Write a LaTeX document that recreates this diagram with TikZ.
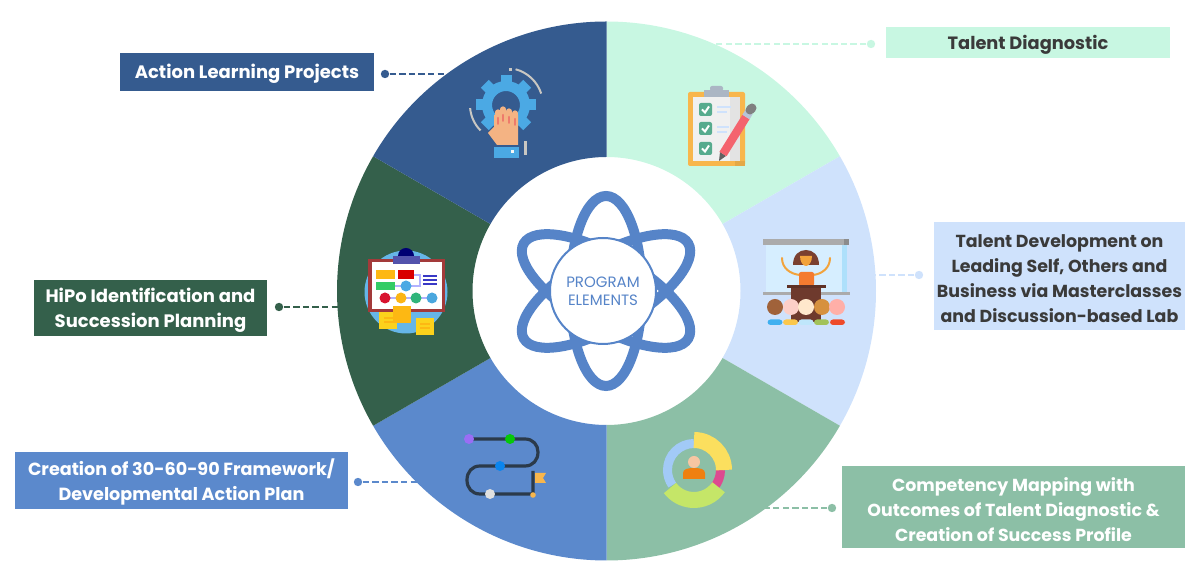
\documentclass[tikz,border=0pt]{standalone}
\usepackage{fontspec}
\setmainfont{Poppins}
\definecolor{navyseg}{HTML}{355B8F}
\definecolor{mintseg}{HTML}{C8F7E2}
\definecolor{skyseg}{HTML}{CFE2FC}
\definecolor{sageseg}{HTML}{8CBFA6}
\definecolor{blueseg}{HTML}{5B89CC}
\definecolor{pineseg}{HTML}{34604B}
\definecolor{labeltext}{HTML}{3A3A3A}
\definecolor{atomblue}{HTML}{5684C8}
\definecolor{iconblue}{HTML}{4BA9E4}
\definecolor{icongray}{HTML}{C9C7C2}
\definecolor{skin}{HTML}{F4B383}
\definecolor{fingerred}{HTML}{EE7B6B}
\definecolor{boardorange}{HTML}{F8B64C}
\definecolor{tickgreen}{HTML}{57AB8E}
\definecolor{brownwood}{HTML}{6E3A2D}
\definecolor{stickyyellow}{HTML}{FCD21C}
\definecolor{stickyorange}{HTML}{FDB813}
\definecolor{pencilred}{HTML}{F4636E}
\definecolor{screenblue}{HTML}{D6EEFF}
\definecolor{stripblue}{HTML}{AEE0FB}
\definecolor{armorange}{HTML}{F2A33C}
\definecolor{robeorange}{HTML}{F47B30}
\definecolor{hairbrown}{HTML}{7A4030}
\definecolor{frameline}{HTML}{A33A3A}
\definecolor{roaddark}{HTML}{2B3A4A}
\newcommand{\labelstrut}{\rule{0pt}{9.4pt}}
\tikzset{
    labelbox/.style={
        rectangle,
        inner sep=0pt,
        align=center,
        font=\fontsize{#1}{12.5}\selectfont\bfseries
    },
    linkdot/.style={
        circle,
        inner sep=0pt,
        minimum size=4.2pt
    },
    linkline/.style={
        line width=0.9pt,
        dash pattern=on 3.2pt off 1.6pt
    },
    orbit/.style={
        draw=atomblue,
        line width=5pt
    }
}
\begin{document}
\begin{tikzpicture}[x=0.5pt,y=-0.5pt]
    \useasboundingbox (0,0) rectangle (1200,581);

    % ring of six segments
    \foreach \a/\c in {-90/mintseg,-30/skyseg,30/sageseg,90/blueseg,150/pineseg,210/navyseg}{
        \fill[\c] (606.5,291) ++(\a:134) -- ++(\a:135.5)
            arc[start angle=\a,end angle=\a+60,radius=269.5]
            -- ++(\a+60:-135.5)
            arc[start angle=\a+60,end angle=\a,radius=134] -- cycle;
    }

    % atom in the middle
    \foreach \a in {0,60,120}{
        \draw[orbit,rotate around={\a:(606,291)}] (606,291) ellipse [x radius=36,y radius=95];
    }
    \node[draw=atomblue,
    fill=white,
    circle,
    line width=1pt,
    minimum size=53pt,
    inner sep=0pt,
    text=atomblue,
    align=center,
    font=\fontsize{7.5}{8.8}\selectfont
    ](core) at (603,291) {PROGRAM\\ELEMENTS};

    % label boxes
    \node[labelbox=9,
    fill=navyseg,
    text=white,
    minimum width=127pt,
    minimum height=19pt
    ](action) at (247,72) {\labelstrut Action Learning Projects};

    \node[labelbox=8.9,
    fill=mintseg,
    text=labeltext,
    minimum width=142pt,
    minimum height=15.5pt
    ](diagnostic) at (1028,42.5) {\labelstrut Talent Diagnostic};

    \node[labelbox=8.7,
    fill=skyseg,
    text=labeltext,
    minimum width=125.5pt,
    minimum height=54pt
    ](development) at (1059.5,276) {\labelstrut Talent Development on\\Leading Self, Others and\\Business via Masterclasses\\and Discussion-based Lab};

    \node[labelbox=8.7,
    fill=sageseg,
    text=white,
    minimum width=171.5pt,
    minimum height=41pt
    ](competency) at (1013.5,507) {\labelstrut Competency Mapping with\\Outcomes of Talent Diagnostic \&\\Creation of Success Profile};

    \node[labelbox=9,
    fill=pineseg,
    text=white,
    minimum width=116.5pt,
    minimum height=28pt
    ](hipo) at (150.5,308) {\labelstrut HiPo Identification and\\Succession Planning};

    \node[labelbox=8.8,
    fill=blueseg,
    text=white,
    minimum width=166.5pt,
    minimum height=28.5pt
    ](creation) at (181.5,480.5) {\labelstrut Creation of 30-60-90 Framework/\\Developmental Action Plan};

    % dots and dashed links
    \node[linkdot,fill=navyseg](actiondot) at (385,74) {};
    \node[linkdot,fill=mintseg](diagnosticdot) at (871,44) {};
    \node[linkdot,fill=skyseg](developmentdot) at (919,275) {};
    \node[linkdot,fill=sageseg](competencydot) at (832,508) {};
    \node[linkdot,fill=pineseg](hipodot) at (279,307) {};
    \node[linkdot,fill=blueseg](creationdot) at (358,482) {};
    \coordinate (actionend) at (446,74);
    \coordinate (diagnosticend) at (714,44);
    \coordinate (developmentend) at (875,275);
    \coordinate (competencyend) at (764,508);
    \coordinate (hipoend) at (339,307);
    \coordinate (creationend) at (420,482);
    \draw[linkline,navyseg] (actiondot) -- (actionend);
    \draw[linkline,mintseg] (diagnosticdot) -- (diagnosticend);
    \draw[linkline,skyseg] (developmentdot) -- (developmentend);
    \draw[linkline,sageseg] (competencydot) -- (competencyend);
    \draw[linkline,pineseg] (hipodot) -- (hipoend);
    \draw[linkline,blueseg] (creationdot) -- (creationend);

    % gear and hand
    \foreach \a in {0,45,...,315}{
        \fill[iconblue,rotate around={\a:(506,105)}] (500.5,75) rectangle (511.5,90);
    }
    \draw[iconblue,line width=5pt] (506,105) circle [radius=19];
    \draw[icongray,line width=1pt] (506,105) ++(-75:37) arc[start angle=-75,end angle=-18,radius=37];
    \draw[icongray,line width=1pt] (506,105) ++(175:36) arc[start angle=175,end angle=135,radius=36];
    \fill[icongray] (509,68) rectangle (512,71);
    \fill[skin] (494,115) -- (518,115) -- (518,145) -- (497,145) -- (488,133) -- (494,127) -- cycle;
    \foreach \x/\y in {498/112,503/109,509/111,515/113}{
        \draw[skin,line width=2.6pt,line cap=round] (\x,\y) -- (\x,120);
        \draw[fingerred,line width=1pt,line cap=round] (\x,\y+6) -- (\x,\y+12);
    }
    \fill[iconblue] (494,147) rectangle (519,158);
    \fill[white!85!icongray] (510.5,150.5) rectangle (513.5,153.5);
    \fill[icongray] (524,141) rectangle (526.5,155);

    % clipboard and pencil
    \fill[boardorange,rounded corners=1pt] (688,92) rectangle (745,166);
    \fill[black!6] (693,97) rectangle (740,161);
    \fill[black!11] (730,97) rectangle (740,161);
    \fill[black!8!boardorange] (735,161) rectangle (745,166);
    \fill[gray!45!skyseg] (704,90) rectangle (729,97);
    \fill[gray!45!skyseg,rounded corners=1pt] (710,86) rectangle (723,91);
    \foreach \y in {103,122,142}{
        \fill[tickgreen,rounded corners=1pt] (699,\y) rectangle (712,\y+13);
        \draw[white,line width=1pt] (702,\y+6.5) -- (705,\y+9.5) -- (709,\y+3.5);
    }
    \draw[skyseg,line width=0.7pt] (717,107) -- (731,107) (717,112) -- (727,112) (717,127) -- (729,127) (717,132) -- (727,132);
    \fill[black!62] (719,161) -- (720,152) -- (726,156) -- cycle;
    \draw[pencilred,line width=4.2pt] (723,154) -- (746,117);
    \draw[skyseg!70!gray,line width=4.2pt] (746,117) -- (749,112);
    \draw[black!50,line width=4.5pt,line cap=round] (750,110) -- (752,108);

    % presenter and audience
    \fill[black!33] (763,239) rectangle (849,245);
    \fill[black!45] (844,239) rectangle (849,245);
    \fill[screenblue] (766,245) rectangle (847,293);
    \fill[stripblue] (842,245) rectangle (847,293);
    \fill[black!33] (763,292) rectangle (850,295);
    \draw[armorange,line width=1pt,line cap=round] (782,258) .. controls (782,268) and (790,274) .. (800,275);
    \draw[armorange,line width=1pt,line cap=round] (830,258) .. controls (830,268) and (822,274) .. (813,275);
    \fill[hairbrown] (793,265) .. controls (793,255) and (799,250) .. (806,250) .. controls (813,250) and (819,255) .. (819,265) -- cycle;
    \fill[armorange] (800,256) -- (812,256) .. controls (812,262) and (809,266) .. (806,266) .. controls (803,266) and (800,262) .. (800,256) -- cycle;
    \fill[robeorange,rounded corners=1pt] (799,272) rectangle (814,286);
    \fill[brownwood] (791,288) rectangle (821,322);
    \fill[brownwood!85!black] (787,285) rectangle (826,288);
    \foreach \x/\c in {775/A0623A,791/FCCFC8,806/FFE8CC,822/D6913F,837/FFAFA8}{
        \definecolor{headtone}{HTML}{\c}
        \fill[headtone] (\x,307) circle [radius=8];
    }
    \foreach \x/\c in {775/3FB0F0,790.5/FBC74C,806/BFE6FB,821.5/A2C25A,837.5/EE4A2A}{
        \definecolor{seattone}{HTML}{\c}
        \fill[seattone,rounded corners=1.5pt] (\x-7.5,325) rectangle (\x+7.5,319.5);
    }

    % planning board
    \fill[iconblue!85!white] (406,292) circle [radius=41.5];
    \fill[frameline] (368,259) rectangle (445,312);
    \fill[white] (372,262) rectangle (442,309);
    \fill[blue!45!black] (406,256) circle [radius=8];
    \fill[blue!35!gray] (393,256) rectangle (420,264);
    \draw[blue!30!white,line width=1pt] (395,286) -- (406,286) (414,275) -- (420,275) -- (420,286) -- (406,286) (385,298) -- (432,298);
    \fill[stickyorange] (376,270) rectangle (395,279);
    \fill[red!85!black] (398,270) rectangle (414,279);
    \fill[green!50!teal!80!white] (376,282) rectangle (395,290);
    \fill[iconblue] (406,286) circle [radius=5.5];
    \draw[blue!55!gray,line width=1pt] (423,276) -- (437,276) (423,280) -- (437,280) (423,284) -- (437,284);
    \foreach \x/\c in {385/D8132F,401/FBB514,416/2FB57A,432/4AA7DE}{
        \definecolor{steptone}{HTML}{\c}
        \fill[steptone] (\x,298) circle [radius=5.5];
    }
    \fill[stickyyellow] (379,312) rectangle (397,329);
    \fill[stickyorange] (393,306) rectangle (411,323);
    \fill[stickyyellow] (416,318) rectangle (434,335);
    \draw[stickyorange,line width=0.6pt] (384,318) -- (393,318) (384,322) -- (393,322) (420,324) -- (430,324) (420,328) -- (430,328);

    % winding road
    \draw[roaddark,line width=1.6pt] (469,439) -- (525,439)
        .. controls (533,439) and (538,445) .. (538,452)
        .. controls (538,460) and (533,466) .. (525,466) -- (480,466)
        .. controls (472,466) and (467,472) .. (467,480)
        .. controls (467,488) and (472,494) .. (480,494) -- (533,494) -- (533,471);
    \definecolor{stopviolet}{HTML}{9A6DF5}
    \definecolor{stopgreen}{HTML}{06C80B}
    \definecolor{stopblue}{HTML}{0A85EE}
    \fill[stopviolet] (469,439) circle [radius=5];
    \fill[stopgreen] (510,439) circle [radius=5];
    \fill[stopblue] (500,466) circle [radius=5];
    \fill[black!12] (490,494) circle [radius=5];
    \fill[boardorange] (533,495) circle [radius=2.8];
    \fill[boardorange] (535,473) -- (546,473) -- (543,478) -- (546,483) -- (535,483) -- cycle;

    % profile donut
    \definecolor{donutblue}{HTML}{A2CAF7}
    \definecolor{donutpink}{HTML}{DD4A90}
    \definecolor{donutyellow}{HTML}{FBDF5E}
    \definecolor{donutgreen}{HTML}{C5E668}
    \draw[donutblue,line width=4.5pt] (694,470) ++(-90:26.5) arc[start angle=-90,end angle=-215,radius=26.5];
    \draw[donutpink,line width=4.5pt] (694,470) ++(0:26.5) arc[start angle=0,end angle=40,radius=26.5];
    \draw[donutyellow,line width=8pt] (694,470) ++(-90:30) arc[start angle=-90,end angle=0,radius=30];
    \draw[donutgreen,line width=8pt] (694,470) ++(35:30) arc[start angle=35,end angle=143,radius=30];
    \fill[skin!75!white] (694,462) circle [radius=6];
    \fill[orange!75!brown] (683,479) -- (683,473) .. controls (683,469) and (688,468) .. (694,468) .. controls (700,468) and (705,469) .. (705,473) -- (705,479) -- cycle;
\end{tikzpicture}
\end{document}
